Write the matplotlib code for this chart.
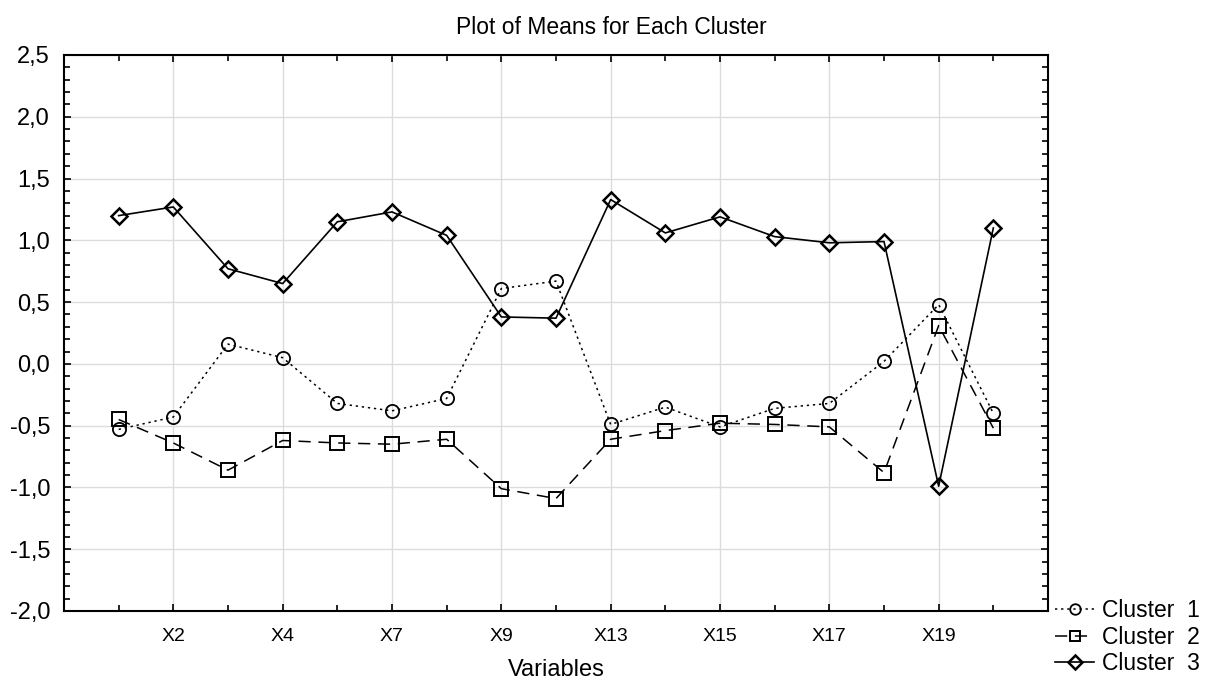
import matplotlib
matplotlib.use("Agg")
import matplotlib.pyplot as plt
from matplotlib.ticker import MultipleLocator, FuncFormatter
import numpy as np

plt.rcParams['font.family'] = ['Liberation Sans', 'DejaVu Sans']

# variables (only every second one gets a label)
variables = ["X1", "X2", "X3", "X4", "X6", "X7", "X8", "X9", "X11",
             "X13", "X14", "X15", "X16", "X17", "X18", "X19", "X20"]
labeled = ["X2", "X4", "X7", "X9", "X13", "X15", "X17", "X19"]

cluster1 = [-0.53, -0.43, 0.16, 0.05, -0.32, -0.38, -0.28, 0.61, 0.67,
            -0.49, -0.35, -0.51, -0.36, -0.32, 0.02, 0.48, -0.40]
cluster2 = [-0.45, -0.64, -0.86, -0.62, -0.64, -0.65, -0.61, -1.01, -1.09,
            -0.61, -0.54, -0.48, -0.49, -0.51, -0.88, 0.31, -0.52]
cluster3 = [1.20, 1.27, 0.77, 0.65, 1.15, 1.23, 1.04, 0.38, 0.37,
            1.33, 1.06, 1.19, 1.03, 0.98, 0.99, -0.99, 1.10]

fig = plt.figure(figsize=(12.1, 6.82), dpi=100)
ax = fig.add_axes([64/1210, 1 - 611/682, (1048 - 64)/1210, (611 - 55)/682])

x = np.arange(len(variables))

l1, = ax.plot(x, cluster1, color='black', lw=1.1, linestyle=(0, (1.5, 2.5)),
              marker='o', ms=9.5, mfc='none', mec='black', mew=1.3)
l2, = ax.plot(x, cluster2, color='black', lw=1.1, linestyle=(0, (8, 5)),
              marker='s', ms=9.5, mfc='none', mec='black', mew=1.4)
l3, = ax.plot(x, cluster3, color='black', lw=1.2, linestyle='-',
              marker='D', ms=8.5, mfc='none', mec='black', mew=1.8)

ax.set_xlim(-1, len(variables))
ax.set_ylim(-2.0, 2.5)

ax.set_xticks(x, minor=True)
major_x = [variables.index(v) for v in labeled]
ax.set_xticks(major_x)
ax.set_xticklabels(labeled)

ax.yaxis.set_major_locator(MultipleLocator(0.5))
ax.yaxis.set_minor_locator(MultipleLocator(0.1))
ax.yaxis.set_major_formatter(FuncFormatter(lambda v, p: f"{v:.1f}".replace('.', ',')))

ax.tick_params(which='both', direction='in', top=True, right=True, color='black')
ax.tick_params(which='major', length=5, width=1.2)
ax.tick_params(which='minor', length=4, width=1.2)
ax.tick_params(axis='y', labelsize=17, pad=10)
ax.tick_params(axis='x', labelsize=14, pad=12)

ax.grid(True, which='major', color='#dcdcdc', lw=1)
ax.set_axisbelow(True)
for s in ax.spines.values():
    s.set_linewidth(1.5)

# title is centred on the whole figure, not the axes
fig.text(0.505, 1 - 27/682, "Plot of Means for Each Cluster", fontsize=16.5,
         ha='center', va='center')
ax.set_xlabel("Variables", fontsize=17, labelpad=10)

fig.legend([l1, l2, l3], ["Cluster  1", "Cluster  2", "Cluster  3"],
           loc='upper left', bbox_to_anchor=(1053/1210, 1 - 597/682),
           frameon=False, fontsize=16.5, handlelength=1.7, handletextpad=0.35,
           labelspacing=0.15, borderaxespad=0, borderpad=0.1, markerscale=0.8)

fig.savefig("out.png", dpi=100)
